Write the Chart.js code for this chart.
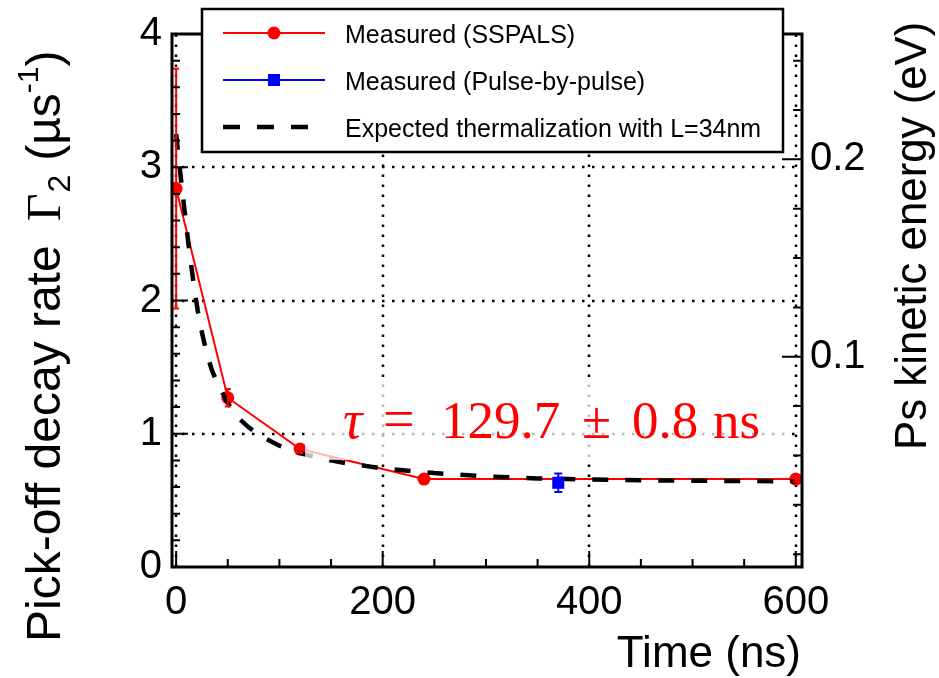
<!DOCTYPE html>
<html>
<head>
<meta charset="utf-8">
<script src="https://cdn.jsdelivr.net/npm/chart.js@4/dist/chart.umd.min.js"></script>
<style>
html, body { margin: 0; padding: 0; background: #fff; }
#wrap { width: 939px; height: 678px; }
</style>
</head>
<body>
<div id="wrap"><canvas id="c" width="939" height="678"></canvas></div>
<script>
// Measured (SSPALS)
var sspalsTime = [0, 50, 120, 240, 600];
var sspalsRate = [2.84, 1.27, 0.885, 0.66, 0.66];
var sspalsErr = [0.90, 0.065, 0.03, 0.02, 0.02];

// Measured (Pulse-by-pulse)
var pulseTime = [370];
var pulseRate = [0.632];
var pulseErr = [0.07];

// Expected thermalization, L=34nm
var modelTime = [0, 3, 6, 9, 12, 15, 18, 21, 25, 30, 35, 40, 50, 60, 70, 80, 100, 120, 140, 160, 200, 250, 300, 350, 400, 450, 500, 550, 600];
var modelRate = [3.25, 3.03, 2.82, 2.62, 2.42, 2.24, 2.07, 1.92, 1.76, 1.59, 1.47, 1.38, 1.23, 1.12, 1.05, 0.99, 0.91, 0.855, 0.815, 0.785, 0.74, 0.705, 0.68, 0.665, 0.657, 0.651, 0.647, 0.645, 0.643];

var legendLabels = ['Measured (SSPALS)', 'Measured (Pulse-by-pulse)', 'Expected thermalization with L=34nm'];

// axis ticks
var xTicks = [0, 200, 400, 600];
var xMinor = [50, 100, 150, 250, 300, 350, 450, 500, 550];
var yTicks = [0, 1, 2, 3, 4];
var yMinor = [0.2, 0.4, 0.6, 0.8, 1.2, 1.4, 1.6, 1.8, 2.2, 2.4, 2.6, 2.8, 3.2, 3.4, 3.6, 3.8];
var eTicks = [0.1, 0.2];
var eMinor = [0, 0.025, 0.05, 0.075, 0.125, 0.15, 0.175, 0.225, 0.25];

function pts(xs, ys) {
    return xs.map(function (x, i) { return {x: x, y: ys[i]}; });
}

var SANS = '"Liberation Sans", Arial, sans-serif';
var SERIF = '"Liberation Serif", "Times New Roman", serif';

function drawErrors(chart, xs, ys, es, color, cap) {
    var sx = chart.scales.x, sy = chart.scales.y;
    var c = chart.ctx;
    c.save();
    c.strokeStyle = color;
    c.lineWidth = 2;
    for (var i = 0; i < xs.length; i++) {
        var px = sx.getPixelForValue(xs[i]);
        var lo = sy.getPixelForValue(ys[i] - es[i]);
        var hi = sy.getPixelForValue(ys[i] + es[i]);
        c.beginPath();
        c.moveTo(px, lo); c.lineTo(px, hi);
        c.moveTo(px - cap, lo); c.lineTo(px + cap, lo);
        c.moveTo(px - cap, hi); c.lineTo(px + cap, hi);
        c.stroke();
    }
    c.restore();
}

var rootStyle = {
    id: 'rootStyle',
    beforeDatasetsDraw: function (chart) {
        var c = chart.ctx, a = chart.chartArea;
        var sx = chart.scales.x, sy = chart.scales.y;
        c.save();
        c.strokeStyle = '#000';
        c.lineWidth = 2.5;
        c.setLineDash([2.5, 7.5]);
        xTicks.forEach(function (v) {
            var p = Math.round(sx.getPixelForValue(v));
            c.beginPath(); c.moveTo(p, a.bottom); c.lineTo(p, a.top); c.stroke();
        });
        [1, 2, 3].forEach(function (v) {
            var p = Math.round(sy.getPixelForValue(v));
            c.beginPath(); c.moveTo(a.left, p); c.lineTo(a.right, p); c.stroke();
        });
        c.restore();
    },
    afterDatasetsDraw: function (chart) {
        var c = chart.ctx, a = chart.chartArea;
        var sx = chart.scales.x, sy = chart.scales.y, se = chart.scales.y2;
        drawErrors(chart, sspalsTime, sspalsRate, sspalsErr, '#ff0000', 3);
        drawErrors(chart, pulseTime, pulseRate, pulseErr, '#0000ff', 4);

        // semi transparent box behind the fit result
        c.save();
        c.fillStyle = 'rgba(255,255,255,0.72)';
        c.fillRect(305, 382, 485, 78);
        c.restore();

        // inner ticks
        c.save();
        c.strokeStyle = '#000';
        c.lineWidth = 2;
        c.beginPath();
        yTicks.forEach(function (v) { var p = sy.getPixelForValue(v); c.moveTo(a.left, p); c.lineTo(a.left + 16, p); });
        yMinor.forEach(function (v) { var p = sy.getPixelForValue(v); c.moveTo(a.left, p); c.lineTo(a.left + 8, p); });
        xTicks.forEach(function (v) { var p = sx.getPixelForValue(v); c.moveTo(p, a.bottom); c.lineTo(p, a.bottom - 16); });
        xMinor.forEach(function (v) { var p = sx.getPixelForValue(v); c.moveTo(p, a.bottom); c.lineTo(p, a.bottom - 8); });
        eTicks.forEach(function (v) { var p = se.getPixelForValue(v); c.moveTo(a.right, p); c.lineTo(a.right - 20, p); });
        eMinor.forEach(function (v) { var p = se.getPixelForValue(v); c.moveTo(a.right, p); c.lineTo(a.right - 9, p); });
        c.stroke();
        // frame
        c.lineWidth = 3;
        c.strokeRect(a.left, a.top, a.right - a.left, a.bottom - a.top);
        c.restore();

        // fit result
        c.save();
        c.fillStyle = '#ff0000';
        c.textBaseline = 'alphabetic';
        c.font = 'italic 54px ' + SERIF;
        c.fillText('τ', 343, 438);
        c.font = '56px ' + SERIF;
        c.fillText('=', 383, 438);
        c.font = '53px ' + SERIF;
        c.fillText('129.7', 441, 438);
        c.fillText('±', 582, 438);
        c.fillText('0.8', 632, 438);
        c.fillText('ns', 713, 438);
        c.restore();

        // legend
        c.save();
        var L = 202, T = 9, R = 783, B = 152;
        c.fillStyle = '#fff';
        c.fillRect(L, T, R - L, B - T);
        c.strokeStyle = '#000';
        c.lineWidth = 2.5;
        c.strokeRect(L, T, R - L, B - T);
        var rows = [33, 80, 127];
        chart.data.datasets.forEach(function (ds, i) {
            var y = rows[i];
            c.save();
            c.strokeStyle = ds.borderColor;
            c.lineWidth = i === 2 ? 4.5 : 2;
            if (i === 2) c.setLineDash([17, 17]);
            c.beginPath(); c.moveTo(223, y); c.lineTo(325, y); c.stroke();
            c.restore();
            c.fillStyle = ds.backgroundColor;
            if (i === 0) { c.beginPath(); c.arc(274, y, 6.5, 0, Math.PI * 2); c.fill(); }
            if (i === 1) { c.fillRect(268, y - 6, 12, 12); }
            c.fillStyle = '#000';
            c.font = '25px ' + SANS;
            c.textBaseline = 'middle';
            c.fillText(ds.label, 345, y + 3);
        });
        c.restore();

        // axis titles
        c.save();
        c.fillStyle = '#000';
        c.textBaseline = 'alphabetic';
        c.font = '44px ' + SANS;
        c.textAlign = 'right';
        c.fillText('Time (ns)', 801, 667);
        c.textAlign = 'left';

        c.save();
        c.translate(926, 450);
        c.rotate(-Math.PI / 2);
        var rt = 'Ps kinetic energy (eV)';
        c.font = '44px ' + SANS;
        var fs = 44 * 428 / c.measureText(rt).width;
        c.font = fs.toFixed(1) + 'px ' + SANS;
        c.fillText(rt, 0, 0);
        c.restore();

        c.save();
        c.translate(60, 642);
        c.rotate(-Math.PI / 2);
        var x = 0;
        c.font = '48px ' + SANS;
        c.fillText('Pick-off decay rate', x, 0);
        x += c.measureText('Pick-off decay rate').width + 24;
        c.font = '48px ' + SERIF;
        c.fillText('Γ', x, 0);
        x += c.measureText('Γ').width + 1;
        c.font = '32px ' + SANS;
        c.fillText('2', x, 10);
        x += c.measureText('2').width + 14;
        c.font = '48px ' + SANS;
        c.fillText('(µs', x, 0);
        x += c.measureText('(µs').width;
        c.font = '30px ' + SANS;
        c.fillText('-1', x, -22);
        x += c.measureText('-1').width;
        c.font = '48px ' + SANS;
        c.fillText(')', x, 0);
        c.restore();
        c.restore();
    }
};

var tickFont = {family: SANS, size: 40};

new Chart(document.getElementById('c').getContext('2d'), {
    type: 'scatter',
    data: {
        datasets: [
            {
                label: legendLabels[0],
                data: pts(sspalsTime, sspalsRate),
                showLine: true,
                borderColor: '#ff0000',
                backgroundColor: '#ff0000',
                borderWidth: 2,
                pointRadius: 6.5,
                pointBorderWidth: 0,
                order: 3
            },
            {
                label: legendLabels[1],
                data: pts(pulseTime, pulseRate),
                showLine: false,
                borderColor: '#0000ff',
                backgroundColor: '#0000ff',
                pointStyle: 'rect',
                pointRadius: 8.5,
                pointBorderWidth: 0,
                order: 1
            },
            {
                label: legendLabels[2],
                data: pts(modelTime, modelRate),
                showLine: true,
                borderColor: '#000000',
                backgroundColor: '#000000',
                borderWidth: 4.5,
                borderDash: [16, 17],
                pointRadius: 0,
                order: 2
            }
        ]
    },
    options: {
        responsive: false,
        animation: false,
        events: [],
        layout: {padding: {top: 27, left: 0, right: 0, bottom: 0}},
        plugins: {legend: {display: false}, tooltip: {enabled: false}},
        scales: {
            x: {
                type: 'linear', min: -4, max: 606,
                afterFit: function (s) { s.height = 111; },
                afterBuildTicks: function (s) { s.ticks = xTicks.map(function (v) { return {value: v}; }); },
                grid: {display: false, drawTicks: false},
                border: {display: false},
                ticks: {font: tickFont, color: '#000', padding: 12, maxRotation: 0, autoSkip: false}
            },
            y: {
                type: 'linear', position: 'left', min: 0, max: 4,
                afterFit: function (s) { s.width = 172; },
                afterBuildTicks: function (s) { s.ticks = yTicks.map(function (v) { return {value: v}; }); },
                grid: {display: false, drawTicks: false},
                border: {display: false},
                ticks: {font: tickFont, color: '#000', padding: 10}
            },
            y2: {
                type: 'linear', position: 'right', min: -0.0065, max: 0.2635,
                afterFit: function (s) { s.width = 137; },
                afterBuildTicks: function (s) { s.ticks = eTicks.map(function (v) { return {value: v}; }); },
                grid: {display: false, drawTicks: false},
                border: {display: false},
                ticks: {font: tickFont, color: '#000', padding: 8, callback: function (v) { return v.toFixed(1); }}
            }
        }
    },
    plugins: [rootStyle]
});
</script>
</body>
</html>
